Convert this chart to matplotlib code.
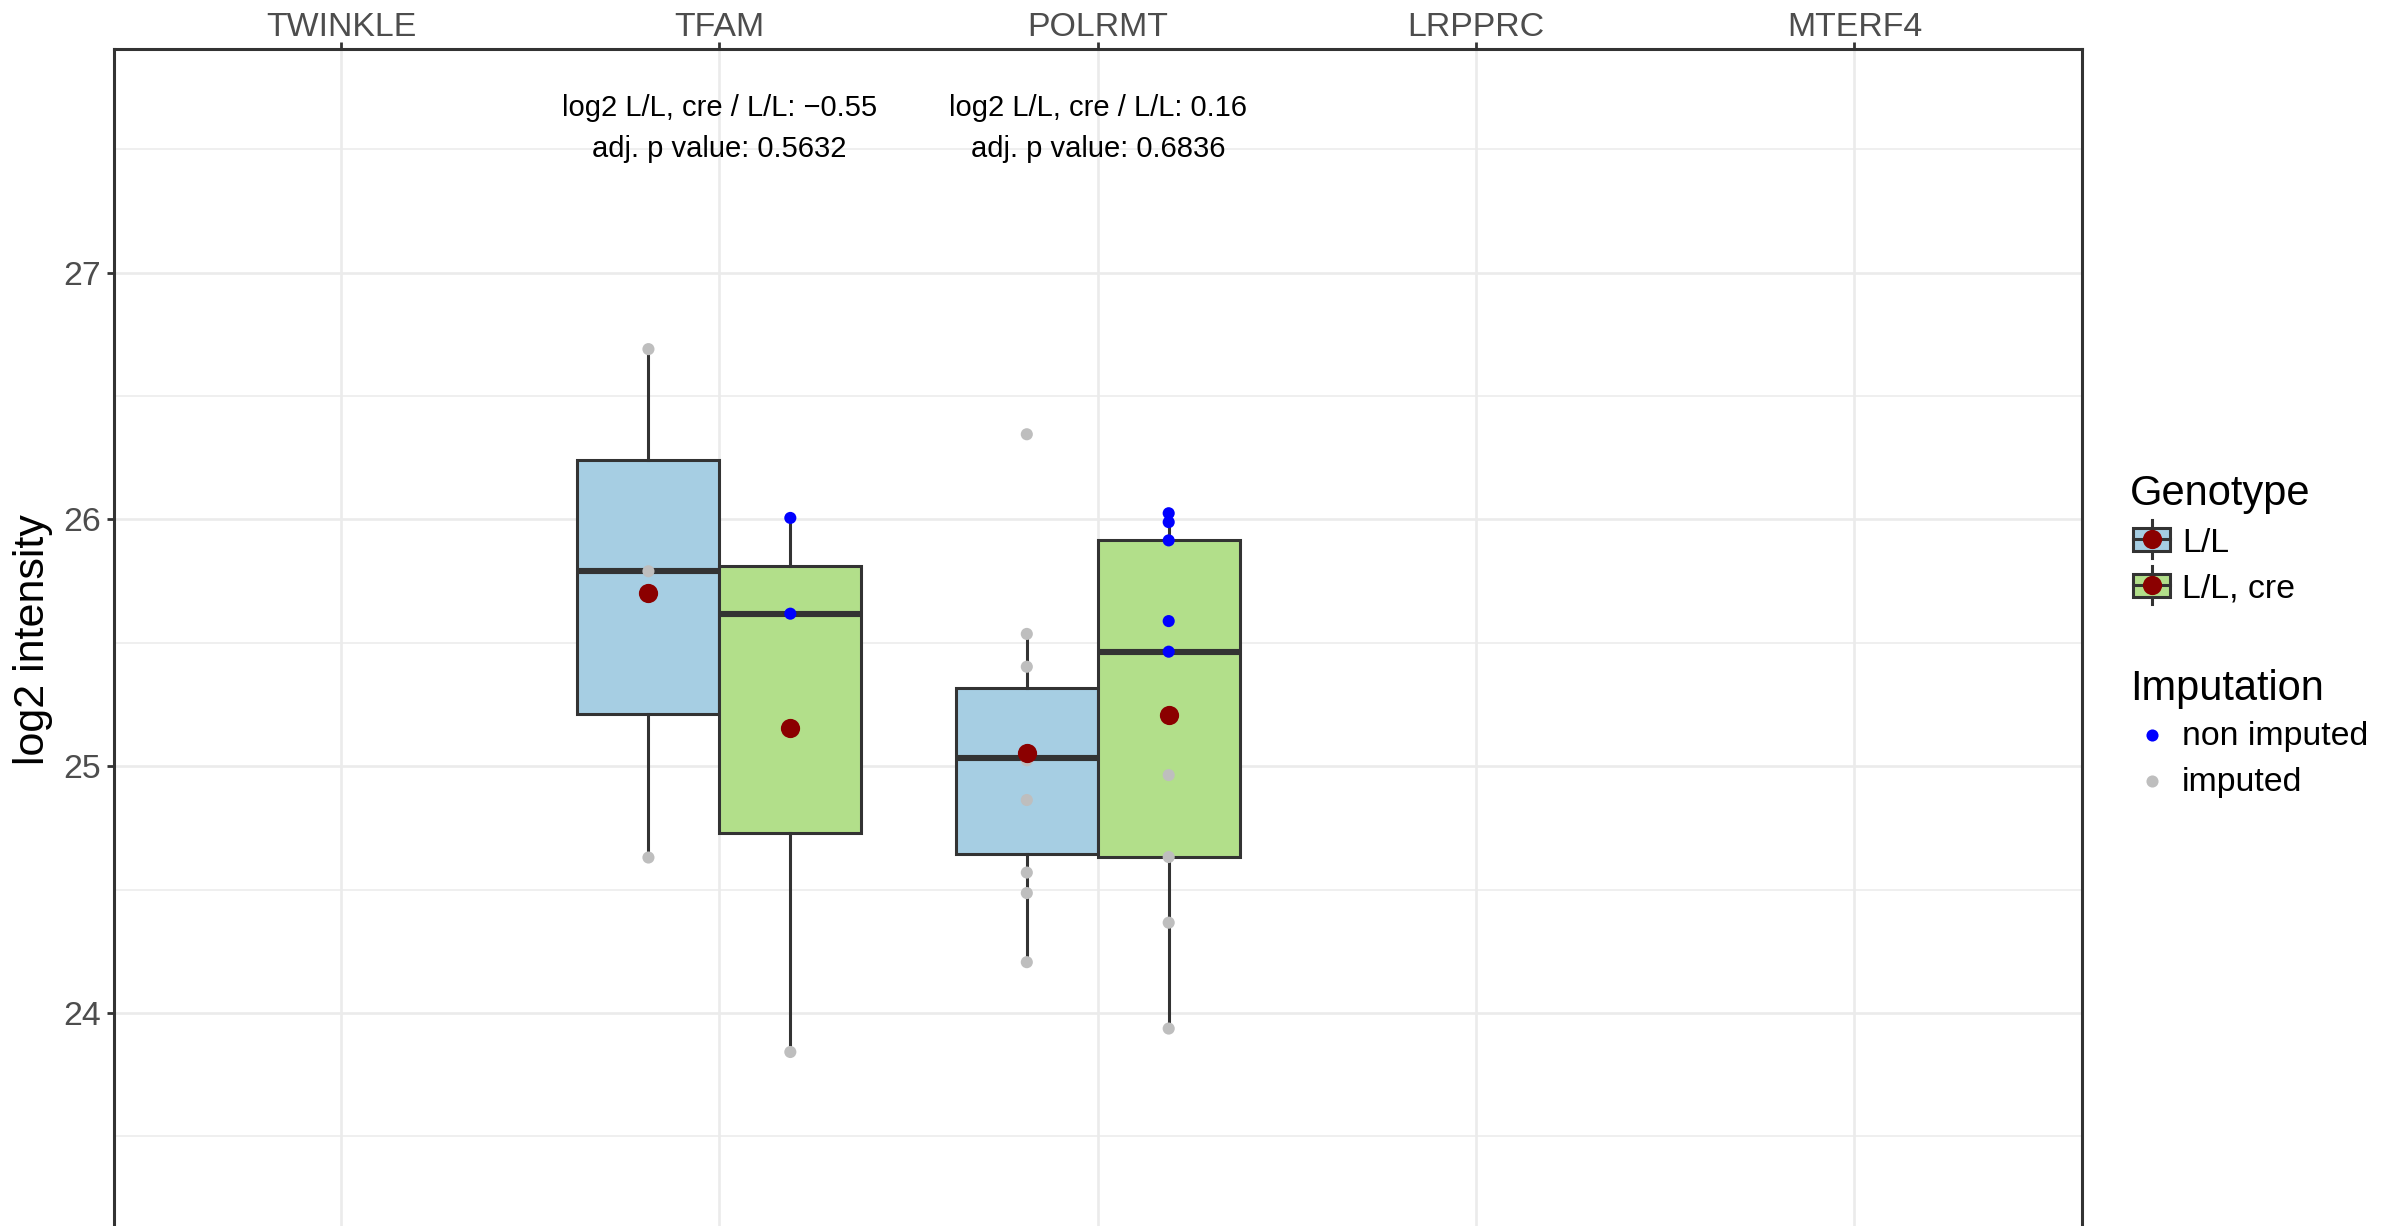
import matplotlib
matplotlib.use("Agg")
import matplotlib.pyplot as plt
from matplotlib.patches import Rectangle
from matplotlib.lines import Line2D
import numpy as np

plt.rcParams['font.family'] = ['Liberation Sans', 'DejaVu Sans']

# ---------------- data ----------------
genes = ["TWINKLE", "TFAM", "POLRMT", "LRPPRC", "MTERF4"]
genotypes = ["L/L", "L/L, cre"]
fill_colors = ["#A6CEE3", "#B2DF8A"]

tfam_ll = [26.69, 25.79, 24.63]
tfam_ll_imputed = [True, True, True]
tfam_cre = [26.006, 25.618, 23.842]
tfam_cre_imputed = [False, False, True]
polrmt_ll = [26.345, 25.536, 25.403, 25.063, 25.045, 25.024, 24.863, 24.569, 24.486, 24.206]
polrmt_ll_imputed = [True] * 10
polrmt_cre = [26.025, 25.989, 25.915, 25.588, 25.464, 24.964, 24.632, 24.366, 23.937]
polrmt_cre_imputed = [False, False, False, False, False, True, True, True, True]

stat_genes = ["TFAM", "POLRMT"]
fold_change = [-0.55, 0.16]
adj_p = ["0.5632", "0.6836"]

groups = [
    ("TFAM", 0, tfam_ll, tfam_ll_imputed),
    ("TFAM", 1, tfam_cre, tfam_cre_imputed),
    ("POLRMT", 0, polrmt_ll, polrmt_ll_imputed),
    ("POLRMT", 1, polrmt_cre, polrmt_cre_imputed),
]

# ---------------- figure ----------------
W, H, DPI = 2384, 1226, 200
fig = plt.figure(figsize=(W / DPI, H / DPI), dpi=DPI)
fig.patch.set_facecolor("white")
ax = fig.add_axes([114 / W, 0, (2081.5 - 114) / W, 1 - 49 / H])

EDGE = "#333333"
GRID = "#EBEBEB"
box_w = 0.375
offsets = [-0.1875, 0.1875]

for gene, gi, vals, imp in groups:
    x = genes.index(gene) + 1 + offsets[gi]
    ax.boxplot([vals], positions=[x], widths=box_w, patch_artist=True,
               showfliers=False, showcaps=False, whis=1.5, manage_ticks=False,
               medianprops=dict(color=EDGE, lw=2.2, solid_capstyle='butt'),
               boxprops=dict(facecolor=fill_colors[gi], edgecolor=EDGE, lw=1.1),
               whiskerprops=dict(color=EDGE, lw=1.1), zorder=2)
    cols = ["#BEBEBE" if m else "#0000FF" for m in imp]
    ax.scatter([x] * len(vals), vals, s=19, c=cols, linewidths=0, zorder=3)
    ax.scatter([x], [np.mean(vals)], s=48, c="#8B0000", linewidths=0, zorder=4)

for gene, fc, p in zip(stat_genes, fold_change, adj_p):
    x = genes.index(gene) + 1
    fc_txt = f"{fc:.2f}".replace("-", "\u2212")
    ax.text(x, 27.667, f"log2 L/L, cre / L/L: {fc_txt}", ha="center", va="center",
            fontsize=10.5, color="black")
    ax.text(x, 27.501, f"adj. p value: {p}", ha="center", va="center",
            fontsize=10.5, color="black")

ax.set_xlim(0.4, 5.6)
ax.set_ylim(23.137, 27.906)
ax.set_xticks(range(1, len(genes) + 1))
ax.set_xticklabels(genes)
ax.set_yticks([24, 25, 26, 27])
ax.set_yticks(np.arange(23.5, 28.0, 1.0), minor=True)
ax.xaxis.tick_top()
ax.tick_params(axis="x", which="major", top=True, bottom=False, labeltop=True,
               labelbottom=False, length=2.5, width=1.0, color=EDGE,
               labelcolor="#4D4D4D", labelsize=12.2, pad=-0.4)
ax.tick_params(axis="y", which="major", length=2.4, width=1.0, color=EDGE,
               labelcolor="#4D4D4D", labelsize=12.2, pad=2.4)
ax.tick_params(axis="y", which="minor", length=0)
ax.grid(True, which="major", color=GRID, lw=0.97, zorder=0)
ax.grid(True, which="minor", axis="y", color=GRID, lw=0.55, zorder=0)
ax.set_axisbelow(True)
for s in ["top", "left", "right"]:
    ax.spines[s].set_color(EDGE)
    ax.spines[s].set_linewidth(1.1)
ax.spines["bottom"].set_visible(False)

fig.text(33 / W, 1 - 640 / H, "log2 intensity", rotation=90, ha="center",
         va="center", fontsize=15.5, color="black")

# ---------------- legend (pixel coords) ----------------
lax = fig.add_axes([0, 0, 1, 1], zorder=5)
lax.set_xlim(0, W)
lax.set_ylim(H, 0)
lax.axis("off")
lax.patch.set_alpha(0)

lax.text(2130, 505, "Genotype", fontsize=15, ha="left", va="baseline")
key_centers = [539, 585]
for gi, (lab, yc) in enumerate(zip(genotypes, key_centers)):
    lax.add_line(Line2D([2151.5, 2151.5], [yc - 19, yc + 19], color=EDGE, lw=1.1, zorder=1))
    lax.add_patch(Rectangle((2133, yc - 11.5), 37, 23, facecolor=fill_colors[gi],
                            edgecolor=EDGE, lw=1.1, zorder=2))
    lax.add_line(Line2D([2133, 2170], [yc, yc], color=EDGE, lw=1.1, zorder=3))
    lax.scatter([2151.5], [yc], s=48, c="#8B0000", linewidths=0, zorder=4)
    lax.text(2182, yc + 12.5, lab, fontsize=12.2, ha="left", va="baseline")

lax.text(2130, 700, "Imputation", fontsize=15, ha="left", va="baseline")
for lab, col, yc in zip(["non imputed", "imputed"], ["#0000FF", "#BEBEBE"], [735, 781]):
    lax.scatter([2152], [yc], s=19, c=col, linewidths=0)
    lax.text(2182, yc + 10.5, lab, fontsize=12.2, ha="left", va="baseline")

fig.savefig("out.png", dpi=DPI)
